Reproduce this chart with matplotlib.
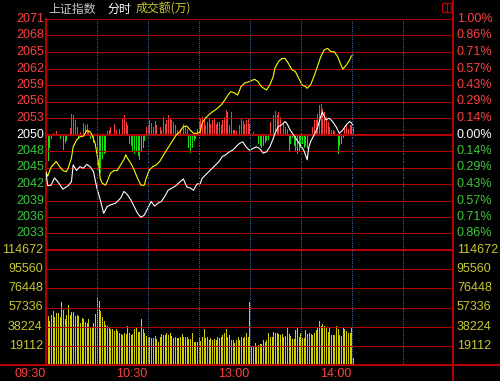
import matplotlib
matplotlib.use('Agg')
import matplotlib.pyplot as plt
from matplotlib.lines import Line2D
from matplotlib.patches import Rectangle
import numpy as np

# --- data ---
prev_close = 2050.5
vol_top = 114672

white_t = [0, 1, 3, 5, 7, 10, 13, 15, 16, 18, 20, 22, 24, 26, 28, 30, 32, 34, 36, 38,
           41, 44, 46, 48, 50, 52, 54, 56, 58, 60, 62, 64, 66, 68, 70, 72, 75, 77, 79, 81,
           83, 85, 87, 89, 91, 92, 94, 96, 98, 100, 102, 104, 106, 108, 110, 112, 114, 116, 118, 120,
           122, 124, 126, 128, 130, 132, 134, 135, 137, 139, 141, 142, 144, 146, 148, 150, 152, 153, 154, 155,
           156, 158, 160, 162, 163, 165, 167, 169, 171, 173, 175, 177, 179, 180, 181]
white_p = [2043.7, 2041.4, 2041.5, 2042.8, 2042.1, 2040.8, 2041.4, 2042.1, 2045.1, 2044.1,
           2044.8, 2044.5, 2045.2, 2044.8, 2043.9, 2041.0, 2038.9, 2036.5, 2037.7, 2038.0,
           2038.3, 2039.2, 2040.4, 2039.8, 2038.9, 2037.7, 2036.5, 2035.8, 2036.2, 2037.4,
           2038.6, 2037.8, 2038.3, 2038.6, 2039.5, 2040.6, 2041.1, 2041.5, 2042.1, 2042.6,
           2041.2, 2041.0, 2040.6, 2041.7, 2041.8, 2042.7, 2043.3, 2043.9, 2044.5, 2045.1,
           2045.7, 2046.6, 2046.9, 2047.4, 2047.7, 2048.3, 2048.9, 2049.2, 2048.3, 2047.7,
           2048.0, 2048.3, 2048.0, 2047.2, 2047.4, 2048.3, 2049.8, 2050.7, 2051.9, 2052.2,
           2052.8, 2052.5, 2051.3, 2050.4, 2049.5, 2048.6, 2047.7, 2046.9, 2046.0, 2048.3,
           2049.2, 2050.4, 2051.6, 2053.7, 2054.5, 2053.1, 2053.4, 2052.8, 2051.9, 2050.7,
           2051.3, 2052.2, 2052.8, 2052.6, 2052.2]

yellow_t = [0, 1, 3, 6, 8, 10, 12, 13, 15, 16, 18, 20, 22, 24, 26, 27, 29, 31, 32, 33,
            35, 36, 38, 40, 42, 44, 46, 47, 48, 50, 52, 54, 56, 58, 59, 61, 63, 65, 67, 69,
            71, 73, 75, 77, 79, 81, 83, 85, 87, 89, 91, 92, 94, 96, 98, 100, 102, 104, 106, 108,
            109, 111, 113, 115, 117, 120, 123, 125, 127, 130, 132, 134, 135, 137, 139, 141, 143, 145, 147, 149,
            151, 153, 154, 156, 158, 160, 162, 164, 166, 168, 170, 172, 174, 175, 177, 179, 180, 181]
yellow_p = [2043.8, 2043.1, 2044.7, 2045.7, 2044.8, 2044.1, 2043.9, 2044.5, 2046.3, 2048.3,
            2049.5, 2050.1, 2050.2, 2051.2, 2051.0, 2050.5, 2048.9, 2045.4, 2042.7, 2041.9,
            2041.5, 2042.1, 2043.6, 2044.1, 2044.1, 2045.1, 2046.1, 2046.9, 2046.3, 2045.4,
            2044.2, 2042.7, 2041.5, 2041.5, 2042.7, 2044.2, 2044.8, 2045.1, 2045.7, 2046.7,
            2047.7, 2048.6, 2049.6, 2050.5, 2051.0, 2051.9, 2052.0, 2051.3, 2050.7, 2050.7,
            2051.0, 2052.5, 2053.4, 2054.0, 2054.5, 2054.9, 2055.4, 2056.0, 2056.9, 2057.8,
            2058.1, 2057.9, 2057.5, 2059.0, 2059.6, 2059.9, 2060.3, 2059.9, 2059.0, 2058.4,
            2059.3, 2060.8, 2062.3, 2063.4, 2064.0, 2064.0, 2063.1, 2062.0, 2061.7, 2060.5,
            2059.3, 2059.0, 2058.7, 2059.3, 2060.8, 2062.5, 2064.3, 2065.5, 2065.8, 2065.2,
            2065.2, 2064.3, 2062.8, 2062.1, 2062.8, 2063.7, 2064.4, 2064.6]

# buy/sell strength bars (+ red, - green)
strength_t = [1, 2, 3, 4, 6, 8, 10, 11, 12, 14, 15, 16, 17, 18, 19, 20, 22, 23, 24, 25,
              26, 28, 30, 31, 32, 33, 34, 35, 36, 37, 38, 40, 41, 43, 45, 46, 47, 48, 49, 50,
              51, 52, 53, 54, 55, 56, 57, 58, 59, 60, 61, 62, 63, 64, 65, 67, 68, 69, 70, 71,
              72, 73, 74, 75, 76, 77, 78, 79, 81, 82, 83, 84, 85, 86, 87, 88, 89, 90, 91, 92,
              93, 94, 95, 96, 97, 98, 99, 100, 101, 102, 103, 104, 105, 106, 107, 108, 109, 110, 111, 112,
              114, 115, 116, 117, 118, 119, 120, 122, 125, 126, 127, 128, 129, 130, 131, 132, 134, 135, 136, 137,
              138, 140, 141, 142, 143, 144, 145, 146, 147, 148, 149, 150, 151, 152, 153, 154, 157, 158, 159, 160,
              161, 162, 163, 164, 165, 166, 167, 168, 169, 170, 172, 173, 174, 175, 176, 177, 178, 179, 180, 181]
strength_v = [-25.7, -12.4, -4, 2, 3.3, -4, -15, -7.4, -5.7, 7, 21, 19.3, 14.3, 7.6, -4, 2.6, 11.6, 9.3, 10.3, 4.3,
              -4, -7.4, -30.7, -32.4, -37.4, -24, -19, -17.4, 3.3, 5, 7.6, 10.3, 5, 6, 16, 19.3, 12.6, 9.3, -8.4, -10.7,
              -15.7, -19, -15.7, -20.7, -25, -15.7, -12.4, -5.7, 7.6, 9.3, 14.3, 11.6, 7.6, 13.6, 9.3, 7.6, 4.3, 17.6, 11, 14.3,
              19.3, 16, 14.3, 12.6, 9.3, 4.3, 2.6, 6, 11, 8.3, 6, -12.4, -17.4, -12.4, -5.7, -4, 6, 12.6, 16, 17.6,
              14.3, 9.3, 12.6, 16, 11, 14.3, 16, 11, 12.6, 12.6, 9.3, 14.3, 17.6, 24.3, 22.6, 9.3, 22.6, 4.3, 5, 3.6,
              9.3, 17, 13.6, 11, 14.3, 16, 11, 2.6, -9, -10.7, -12.3, -10.7, -7.4, -5.7, -5, 12.6, 19.3, 23.6, 19.3, 22.6,
              17.6, 11, 7.6, 6, -15.7, -9, -2.3, -10.7, -15.7, -18.3, -15.7, -12.3, -9, -12.3, -10.7, -14, 7.6, 14.3, 15, 21,
              29.3, 31, 26, 22.6, 17.6, 12.6, 7.6, 4.3, 4.3, 3.6, -18.3, -10.7, -9, -2.3, 7.6, 11, 6, 9.3, 9.3, 7.6]

# turnover per minute, thousands
vol_k = [105.7,
         48.9, 44.2, 49.9, 53.8, 48.2, 51.8, 51.8, 48.2, 62.8, 54.8,
         45.9, 49.9, 59.8, 49.9, 52.5, 52.8, 48.9, 50.2, 49.2, 42.2,
         47.2, 45.5, 43.2, 41.5, 45.5, 38.2, 38.2, 42.2, 50.9, 66.5,
         64.1, 53.8, 48.2, 43.9, 39.9, 38.9, 36.6, 35.6, 36.2, 34.2,
         35.6, 34.2, 32.2, 30.9, 29.9, 31.6, 30.9, 38.9, 32.2, 29.9,
         30.9, 35.6, 38.2, 33.2, 33.2, 45.5, 35.6, 31.6, 28.9, 28.2,
         27.6, 26.6, 26.6, 28.9, 25.6, 23.3, 28.2, 30.6, 29.9, 29.9,
         31.6, 29.9, 31.6, 29.2, 26.6, 27.6, 26.6, 26.6, 27.6, 30.6,
         27.6, 27.6, 27.6, 25.6, 25.6, 31.6, 23.3, 23.3, 23.3, 27.6,
         23.9, 28.2, 35.6,
         26.6, 28.2, 24.9, 26.6, 24.9, 25.6, 24.9, 27.6, 26.6, 28.2,
         29.9, 31.6, 35.6, 28.2, 29.9, 24.9, 24.9, 21.6, 24.9, 28.2,
         24.9, 28.2, 26.6, 27.6, 31.6, 28.2,
         63.2, 18.3, 17.6, 21.6, 18.9, 19.9, 20.9, 20.9, 24.9, 23.3,
         24.9, 32.2, 28.2, 28.2, 33.2, 31.6, 31.6, 30.9, 29.9, 30.9,
         28.2, 28.9, 38.2, 30.9, 28.9, 25.6, 25.6, 34.9, 36.6, 27.6,
         32.2, 26.6, 26.6, 34.9, 30.9, 32.2, 30.9, 29.9, 32.2, 34.9,
         36.6, 44.2, 38.9, 40.9, 38.9, 38.2, 33.2, 36.6, 29.9, 29.9,
         29.9, 38.9, 35.6, 29.9, 28.9, 37.2, 35.6, 34.2, 31.6, 31.6,
         37.6, 6.6]

time_labels = ['09:30', '10:30', '13:00', '14:00']
time_pos = [0, 60, 120, 180]

# --- layout ---
W, H = 500, 381
px = 72 / 100  # one pixel in points
grid_c = '#b40000'
red_txt = '#ff4040'
green_txt = '#3cc83c'
yel_txt = '#c8c832'
num_font = 'Liberation Sans'

fig = plt.figure(figsize=(W / 100, H / 100), dpi=100, facecolor='black')


def rect(x0, y0, x1, y1):
    return [x0 / W, 1 - y1 / H, (x1 - x0) / W, (y1 - y0) / H]


ax = fig.add_axes(rect(46, 19, 453, 250))
axv = fig.add_axes(rect(46, 250, 453, 365))
for a in (ax, axv):
    a.set_axis_off()
    a.set_xlim(0, 240)
ax.set_ylim(prev_close * 0.99, prev_close * 1.01)
axv.set_ylim(0, vol_top)

# price grid and labels
steps = np.arange(-6, 8)
levels = prev_close * (1 + steps * 0.01 / 7)
for k, lv in zip(steps, levels):
    ax.axhline(lv, color=grid_c, lw=(2 if k == 0 else 1) * px, zorder=2, clip_on=False,
               antialiased=False)
    c = red_txt if k > 0 else ('white' if k == 0 else green_txt)
    ax.text(-0.004, lv, f'{lv:.0f}', transform=ax.get_yaxis_transform(), ha='right',
            va='center', color=c, fontsize=9, family=num_font)
    ax.text(1.0095, lv, f'{abs(k) / 7:.2f}%', transform=ax.get_yaxis_transform(), ha='left',
            va='center', color=c, fontsize=9, family=num_font)

# volume grid and labels
for k in range(1, 7):
    v = k * vol_top // 6
    axv.axhline(v, color=grid_c, lw=(2 if k == 6 else 1) * px, zorder=2, clip_on=False,
                antialiased=False)
    for xa, ha in ((-0.008, 'right'), (1.0095, 'left')):
        axv.text(xa, v, f'{v}', transform=axv.get_yaxis_transform(), ha=ha,
                 va='center', color=yel_txt, fontsize=9, family=num_font)

# dotted half-hour lines: one dot on every second pixel row, at pixel centres
dot_row = np.arange(20, 365, 2)
for t in range(30, 240, 30):
    xcol = np.floor(46 + t * 407 / 240) + 0.5
    fig.add_artist(Line2D(np.full(dot_row.size, xcol / W), (H - dot_row - 0.5) / H,
                          ls='none', marker='s', ms=0.9 * px, mew=0, mfc='#e00000',
                          antialiased=False))
for a in (ax, axv):
    a.axvline(0, color=grid_c, lw=1.5 * px, zorder=2, clip_on=False, antialiased=False)

# strength bars
sv = np.array(strength_v) * 0.1775
cols = ['#ff3c3c' if v > 0 else '#10e010' for v in sv]
ax.vlines(strength_t, prev_close, prev_close + sv, colors=cols, lw=1.0 * px, zorder=1,
          antialiased=False)

# index lines
ax.plot(yellow_t, yellow_p, color='#ffff00', lw=1.1 * px, zorder=3)
ax.plot(white_t, white_p, color='white', lw=1.1 * px, zorder=3)

# volume bars
vol = np.array(vol_k) * 1000
axv.vlines(np.arange(len(vol)), 0, vol, colors='#d0d000', lw=1.0 * px, zorder=1,
           antialiased=False)

# time labels
for t, lab in zip(time_pos, time_labels):
    axv.text(t, -0.08, lab, transform=axv.get_xaxis_transform(), ha='right', va='center',
             color=red_txt, fontsize=9, family=num_font)

# frame lines spanning the figure
fig.add_artist(Line2D([0, 1], [1 - 365 / H] * 2, color=grid_c, lw=1.5 * px, antialiased=False))
fig.add_artist(Line2D([453 / W] * 2, [0, 1], color=grid_c, lw=1.5 * px, antialiased=False))

# header
fig.text(48 / W, 1 - 9 / H, '上证指数', color='#c8c8c8', fontsize=8.6,
         family=['Noto Sans CJK SC', 'DejaVu Sans'], va='center')
fig.text(108 / W, 1 - 9 / H, '分时', color='white', fontsize=8.6,
         family=['Noto Sans CJK SC', 'DejaVu Sans'], va='center')
fig.text(136 / W, 1 - 9 / H, '成交额(万)', color=yel_txt, fontsize=8.6,
         family=['Noto Sans CJK SC', 'DejaVu Sans'], va='center')
fig.add_artist(Rectangle((441.5 / W, 1 - 12 / H), 9.5 / W, 8.5 / H, transform=fig.transFigure,
                         fill=False, edgecolor='#c00000', lw=1.2 * px))
fig.add_artist(Line2D([447 / W] * 2, [1 - 12 / H, 1 - 3.5 / H], color='#c00000', lw=1.2 * px))

fig.savefig('out.png', dpi=100, facecolor='black')
